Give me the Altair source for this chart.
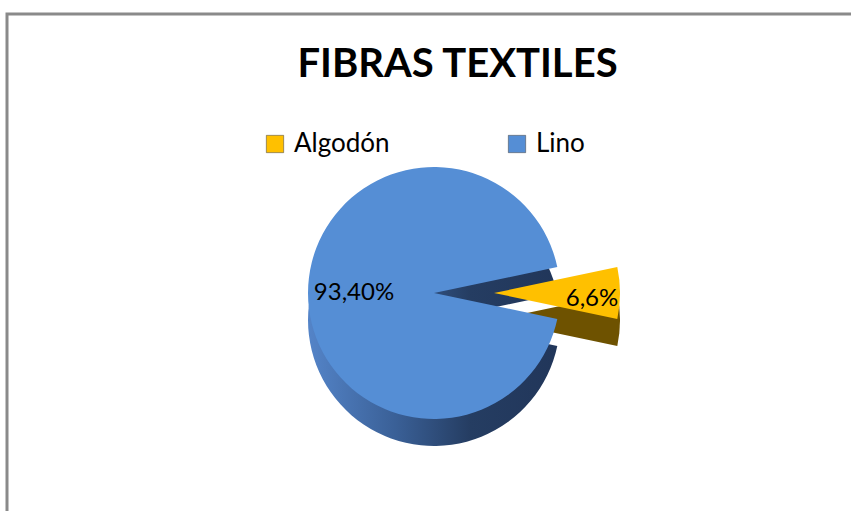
import math
import altair as alt
import pandas as pd

# ---- data ----
fibras = ["Algodón", "Lino"]
valores = [6.6, 93.4]
etiquetas = ["6,6%", "93,40%"]
orden = [0, 1]
colores = ["#FFC000", "#558ED5"]

df = pd.DataFrame({"fibra": fibras, "valor": valores, "etiqueta": etiquetas, "orden": orden})

# ---- geometry / style ----
W, H = 851, 511
CX, CY = 434, 293
R = 126
DEPTH = 27
EXPLODE = 60
FONT = "Lato"

# rotate so Algodón is centered at 3 o'clock
start = math.pi / 2 - (valores[0] / 100) * math.pi
theta_scale = alt.Scale(domain=[0, 100], range=[start, start + 2 * math.pi])

base = alt.Chart(df).transform_window(
    fin="sum(valor)", sort=[alt.SortField("orden")], frame=[None, 0]
).transform_calculate(
    ini="datum.fin - datum.valor", medio="datum.fin - datum.valor / 2"
)

theta = alt.Theta("ini:Q", scale=theta_scale)
theta2 = alt.Theta2("fin:Q")
color = alt.Color(
    "fibra:N",
    scale=alt.Scale(domain=fibras, range=colores),
    legend=alt.Legend(title=None),
)

alg = base.transform_filter("datum.fibra == 'Algodón'")
lino = base.transform_filter("datum.fibra == 'Lino'")

side_grad_lino = alt.LinearGradient(
    gradient="linear",
    stops=[
        alt.GradientStop(color="#5484C8", offset=0),
        alt.GradientStop(color="#3A6097", offset=0.35),
        alt.GradientStop(color="#253D62", offset=0.65),
        alt.GradientStop(color="#21365A", offset=1),
    ],
    x1=0, x2=1, y1=0, y2=0,
)

side_alg = alg.mark_arc(radius=R, fill="#6E5200").encode(
    theta=theta, theta2=theta2, x=alt.value(CX + EXPLODE), y=alt.value(CY + DEPTH)
)
side_lino = lino.mark_arc(radius=R, fill=side_grad_lino).encode(
    theta=theta, theta2=theta2, x=alt.value(CX), y=alt.value(CY + DEPTH)
)
top_lino = lino.mark_arc(radius=R).encode(
    theta=theta, theta2=theta2, color=color, x=alt.value(CX), y=alt.value(CY)
)
top_alg = alg.mark_arc(radius=R).encode(
    theta=theta, theta2=theta2, color=color, x=alt.value(CX + EXPLODE), y=alt.value(CY)
)

txt_lino = lino.mark_text(font=FONT, fontSize=24, color="black", baseline="middle").encode(
    theta=alt.Theta("medio:Q", scale=theta_scale), radius=alt.value(80),
    text="etiqueta:N", x=alt.value(CX), y=alt.value(CY),
)
txt_alg = alg.mark_text(font=FONT, fontSize=24, color="black", baseline="middle").encode(
    theta=alt.Theta("medio:Q", scale=theta_scale), radius=alt.value(98),
    text="etiqueta:N", x=alt.value(CX + EXPLODE), y=alt.value(CY + 6),
)

border = alt.Chart(pd.DataFrame({"b": [0]})).mark_rect(
    fill="transparent", stroke="#8A8A8A", strokeWidth=3
).encode(x=alt.value(7), y=alt.value(14), x2=alt.value(W + 40), y2=alt.value(H + 40))

chart = alt.layer(
    border, side_alg, side_lino, top_lino, top_alg, txt_lino, txt_alg
).properties(
    width=W, height=H,
    autosize=alt.AutoSizeParams(type="none"),
    padding=0,
    background="white",
    title=alt.TitleParams(
        "FIBRAS TEXTILES", font=FONT, fontSize=40, fontWeight="bold", color="black",
        anchor="middle", baseline="alphabetic", offset=-117, dx=32,
    ),
).configure_view(stroke=None).configure_legend(
    orient="none", legendX=262, legendY=131, direction="horizontal",
    symbolType="square", symbolSize=300, symbolStrokeColor="#3C3C3C", symbolStrokeWidth=0.5,
    labelFont=FONT, labelFontSize=26, labelColor="black", labelOffset=6,
    columnPadding=114, padding=0,
)

chart.save("out.html", embed_options={"renderer": "svg", "actions": False})
